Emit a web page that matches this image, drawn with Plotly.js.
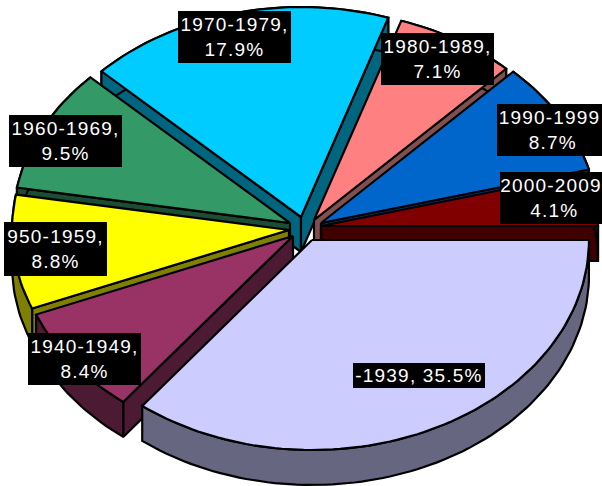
<!DOCTYPE html>
<html><head><meta charset="utf-8">
<script src="https://cdn.plot.ly/plotly-3.0.1.min.js"></script>
<style>
html,body{margin:0;padding:0;background:#fff;overflow:hidden}
#chart{width:602px;height:486px}
.annotation-text{letter-spacing:1.2px}
</style></head><body><div id="chart"></div>
<script>
// Data, in chart order (clockwise, starting from due east)
const categories = ["-1939","1940-1949","1950-1959","1960-1969","1970-1979","1980-1989","1990-1999","2000-2009"];
const shares = [35.5,8.4,8.8,9.5,17.9,7.1,8.7,4.1];
const labelTexts = ["-1939, 35.5%","1940-1949,<br>8.4%","950-1959,<br>8.8%","1960-1969,<br>9.5%","1970-1979,<br>17.9%","1980-1989,<br>7.1%","1990-1999<br>&nbsp;8.7%","2000-2009<br>&nbsp;4.1%"];

// Styles
const topColors = ["#CCCCFF","#993366","#FFFF00","#339966","#00CCFF","#FF8080","#0066CC","#800000"];
const sideColors = ["#666680","#4D1A33","#808000","#1A4D33","#006680","#805050","#003366","#400000"];

// Pie projection and explosion: apex of every slice in axis units
const radiusX = 277, radiusY = 210, depth = 35, startDeg = 90;
const apexX = [312,293,289,290,301,314,321,321];
const apexY = [240,236,230,223,217,220,223,226];
// Label boxes: centre and size in axis units
const labelX = [419,84.5,55.5,65.5,234.5,437.5,549.5,551];
const labelY = [375.5,359,249,141,37,59,130,198];
const labelW = [132,113,103,113,113,113,105,102];
const labelH = [25,52,54,52,52,52,52,52];
// Back-to-front painting order
const paintOrder = [4,3,5,2,6,1,7,0];

let acc = 0;
const spans = shares.map(v => { const a = startDeg + acc*3.6; acc += v; return [a, startDeg + acc*3.6]; });

function arc(i, off){
  const [a,b] = spans[i], xs=[], ys=[];
  const n = Math.max(4, Math.round((b-a)/1.5));
  for(let k=0;k<=n;k++){
    const t=(a+(b-a)*k/n)*Math.PI/180;
    xs.push(apexX[i]+radiusX*Math.sin(t));
    ys.push(apexY[i]-radiusY*Math.cos(t)+off);
  }
  return [xs,ys];
}
const traces=[];
function poly(xs,ys,fill,name){
  traces.push({type:"scatter",mode:"lines",x:xs,y:ys,fill:"toself",fillcolor:fill,name:name,
    line:{color:"#000",width:2.2,shape:"linear"},hoverinfo:"skip",showlegend:false});
}
paintOrder.forEach(i=>{
  const [tx,ty]=arc(i,0), [bx,by]=arc(i,depth), n=tx.length-1;
  const ax=apexX[i], ay=apexY[i];
  const [a,b]=spans[i];
  // only the cut faces that turn towards the viewer
  if(Math.sin(a*Math.PI/180)<0) poly([ax,tx[0],bx[0],ax,ax],[ay,ty[0],by[0],ay+depth,ay],sideColors[i],categories[i]+" side");
  if(Math.sin(b*Math.PI/180)>0) poly([ax,tx[n],bx[n],ax,ax],[ay,ty[n],by[n],ay+depth,ay],sideColors[i],categories[i]+" side");
  // outer rim
  poly(tx.concat(bx.slice().reverse(),[tx[0]]),ty.concat(by.slice().reverse(),[ty[0]]),sideColors[i],categories[i]+" rim");
  // top face
  poly([ax].concat(tx,[ax]),[ay].concat(ty,[ay]),topColors[i],categories[i]);
});
const annotations = labelTexts.map((t,i)=>({
  x:labelX[i],y:labelY[i],xref:"x",yref:"y",text:t,showarrow:false,xanchor:"center",yanchor:"middle",
  width:labelW[i],height:labelH[i],align:"center",valign:"middle",bgcolor:"#000",borderpad:0,borderwidth:0,
  font:{family:"Liberation Sans, Arial, sans-serif",size:19,color:"#fff"}
}));
const hidden={range:[0,602],visible:false,fixedrange:true};
Plotly.newPlot("chart",traces,{
  width:602,height:486,margin:{l:0,r:0,t:0,b:0},paper_bgcolor:"#fff",plot_bgcolor:"#fff",
  xaxis:hidden,yaxis:Object.assign({},hidden,{range:[486,0]}),
  showlegend:false,hovermode:false,annotations:annotations
},{displayModeBar:false,staticPlot:true});
</script></body></html>
